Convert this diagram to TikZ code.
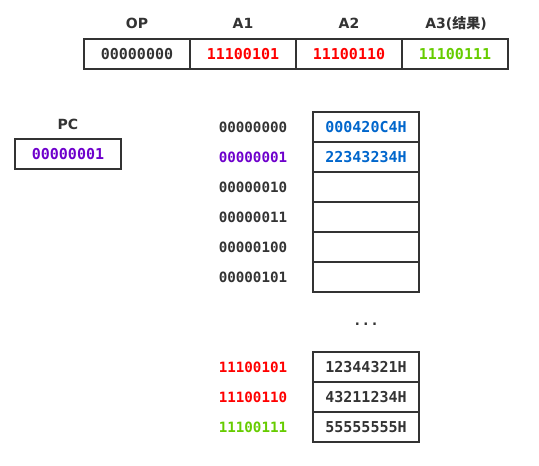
\documentclass[tikz,border=0pt]{standalone}
\usepackage{fontspec}
\setmonofont{DejaVu Sans Mono}
\setsansfont{DejaVu Sans}
\newfontfamily\cjk{Noto Sans CJK SC}
\definecolor{dk}{HTML}{333333}
\definecolor{rd}{HTML}{FF0000}
\definecolor{gn}{HTML}{66CC00}
\definecolor{pp}{HTML}{6E00CC}
\definecolor{bl}{HTML}{0066CC}
\begin{document}
\begin{tikzpicture}[x=1pt,y=-1pt,
  cell/.style={draw=dk,line width=1.6pt,outer sep=0pt,minimum width=106pt,minimum height=30pt,inner sep=0pt,font=\ttfamily\bfseries\fontsize{15}{15}\selectfont,text=dk,anchor=north west},
  addr/.style={font=\ttfamily\bfseries\fontsize{14.2}{14.2}\selectfont,text=dk},
  head/.style={font=\sffamily\bfseries\fontsize{14}{14}\selectfont,text=dk}]
\useasboundingbox (0,0) rectangle (539,466);
% top instruction
\node[head] (hop) at (137,23) {OP};
\node[head] (ha1) at (243,23) {A1};
\node[head] (ha2) at (349,23) {A2};
\node[head] (ha3) at (456,23) {A3({\cjk 结果})};
\node[cell] (op) at (84,39) {00000000};
\node[cell,text=rd] (a1) at (190,39) {11100101};
\node[cell,text=rd] (a2) at (296,39) {11100110};
\node[cell,text=gn] (a3) at (402,39) {11100111};
% PC
\node[head] (hpc) at (68,124) {PC};
\node[cell,text=pp] (pc) at (15,139) {00000001};
% memory
\node[cell,text=bl] (m0) at (313,112) {000420C4H};
\node[cell,text=bl] (m1) at (313,142) {22343234H};
\node[cell] (m2) at (313,172) {};
\node[cell] (m3) at (313,202) {};
\node[cell] (m4) at (313,232) {};
\node[cell] (m5) at (313,262) {};
\node[addr] (d0) at (253,127) {00000000};
\node[addr,text=pp] (d1) at (253,157) {00000001};
\node[addr] (d2) at (253,187) {00000010};
\node[addr] (d3) at (253,217) {00000011};
\node[addr] (d4) at (253,247) {00000100};
\node[addr] (d5) at (253,277) {00000101};
\node[addr] (dots) at (366,324) {...};
\node[cell] (n0) at (313,352) {12344321H};
\node[cell] (n1) at (313,382) {43211234H};
\node[cell] (n2) at (313,412) {55555555H};
\node[addr,text=rd] (e0) at (253,367) {11100101};
\node[addr,text=rd] (e1) at (253,397) {11100110};
\node[addr,text=gn] (e2) at (253,427) {11100111};
\end{tikzpicture}
\end{document}
